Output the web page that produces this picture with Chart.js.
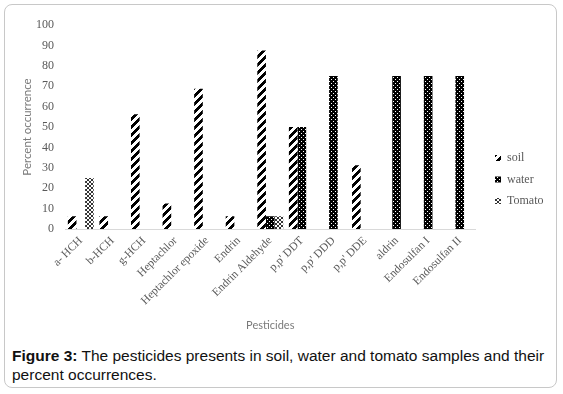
<!DOCTYPE html>
<html>
<head>
<meta charset="utf-8">
<script src="https://cdn.jsdelivr.net/npm/chart.js@4"></script>
<style>
  body { margin: 0; background: #fff; width: 563px; height: 394px; overflow: hidden; position: relative; }
  #frame { position: absolute; left: 4px; top: 4px; width: 551px; height: 382px; border: 1.5px solid #c8c8c8; border-radius: 8px; }
  #wrap { position: absolute; left: 0; top: 0; width: 563px; height: 334px; }
  #caption { position: absolute; left: 12px; top: 346px; width: 545px; font-family: "Liberation Sans", Arial, sans-serif; font-size: 15.5px; line-height: 19px; color: #111; }
</style>
</head>
<body>
<div id="frame"></div>
<div id="wrap"><canvas id="pesticideChart" width="563" height="334"></canvas></div>
<div id="caption"><b>Figure 3:</b> The pesticides presents in soil, water and tomato samples and their percent occurrences.</div>
<script>
// categories and series
const pesticides = ["a- HCH", "b-HCH", "g-HCH", "Heptachlor", "Heptachlor epoxide", "Endrin",
    "Endrin Aldehyde", "p,p' DDT", "p,p' DDD", "p,p' DDE", "aldrin", "Endosulfan I", "Endosulfan II"];
const soil   = [6.25, 6.25, 56.25, 12.5, 68.75, 6.25, 87.5, 50, null, 31.25, null, null, null];
const water  = [null, null, null, null, null, null, 6.25, 50, 75, null, 75, 75, 75];
const tomato = [25, null, null, null, null, null, 6.25, null, null, null, null, null, null];
const yTicks = [0, 10, 20, 30, 40, 50, 60, 70, 80, 90, 100];

// small fill patterns like the Excel ones
function makePattern(size, paint) {
    const c = document.createElement("canvas");
    c.width = size; c.height = size;
    const g = c.getContext("2d");
    for (let y = 0; y < size; y++) {
        for (let x = 0; x < size; x++) {
            g.fillStyle = paint(x, y);
            g.fillRect(x, y, 1, 1);
        }
    }
    return g.createPattern(c, "repeat");
}

const ctx = document.getElementById("pesticideChart").getContext("2d");
const soilFill = makePattern(8, (x, y) => ((x + y) % 8 < 4 ? "#000" : "#fff"));
const waterFill = makePattern(4, (x, y) => ((x === 1 && y === 1) || (x === 3 && y === 3) ? "#fff" : "#000"));
const tomatoFill = makePattern(4, (x, y) => (x === y || x + y === 3 ? "#333" : "#fff"));

const serif = "'Liberation Serif', 'Times New Roman', serif";
const grey = "#595959";

new Chart(ctx, {
    type: "bar",
    data: {
        labels: pesticides,
        datasets: [
            { label: "soil", data: soil, backgroundColor: soilFill, borderWidth: 0 },
            { label: "water", data: water, backgroundColor: waterFill, borderWidth: 0 },
            { label: "Tomato", data: tomato, backgroundColor: tomatoFill, borderWidth: 0 }
        ]
    },
    options: {
        responsive: false,
        animation: false,
        layout: { padding: { top: 25, left: 12, right: 9.5, bottom: 0 } },
        datasets: { bar: { categoryPercentage: 0.82, barPercentage: 1.0 } },
        scales: {
            x: {
                grid: { display: false, drawTicks: false },
                border: { display: true, color: "#d9d9d9", width: 1 },
                ticks: {
                    autoSkip: false, minRotation: 45, maxRotation: 45, padding: 5,
                    color: grey, font: { family: serif, size: 11.5 }
                },
                title: {
                    display: true, text: "Pesticides", color: "#7a7a7a",
                    font: { family: "Lato, 'Open Sans', sans-serif", size: 11 },
                    padding: { top: 0, bottom: 2.4 }
                },
                afterFit: (s) => { s.height = 105; s.paddingLeft = 0; s.paddingRight = 0; }
            },
            y: {
                min: 0, max: 100,
                grid: { display: false, drawTicks: false },
                border: { display: false },
                afterBuildTicks: (s) => { s.ticks = yTicks.map(v => ({ value: v })); },
                ticks: { padding: 11, color: grey, font: { family: serif, size: 12 } },
                title: {
                    display: true, text: "Percent occurrence", color: "#7a7a7a",
                    font: { family: "Lato, 'Open Sans', sans-serif", size: 11.5 },
                    padding: { top: 8, bottom: 0 }
                },
                afterFit: (s) => { s.width = 53; s.paddingTop = 0; s.paddingBottom = 0; }
            },
            gap: {
                position: "right", display: true,
                grid: { display: false, drawTicks: false },
                border: { display: false },
                ticks: { display: false },
                afterFit: (s) => { s.width = 10; }
            }
        },
        plugins: {
            legend: {
                position: "right",
                align: "center",
                labels: {
                    boxWidth: 6, boxHeight: 6, padding: 9.5,
                    color: grey, font: { family: serif, size: 12 }
                }
            },
            tooltip: { enabled: false }
        }
    }
});
</script>
</body>
</html>
